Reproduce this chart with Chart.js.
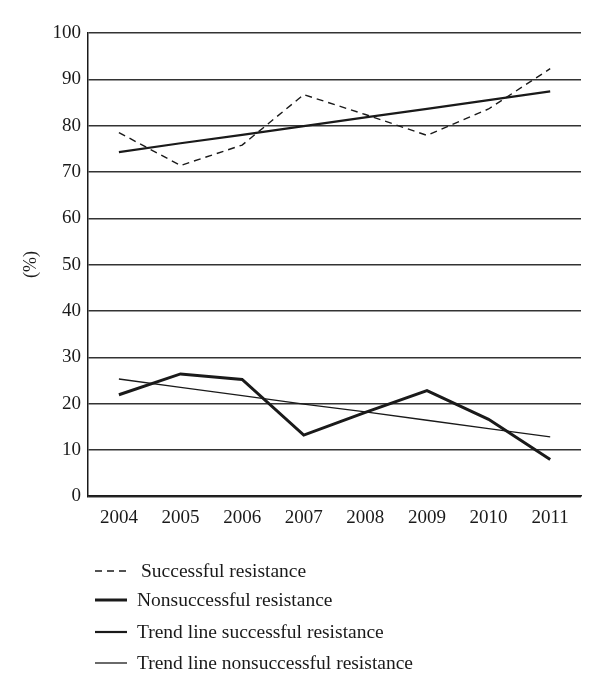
<!DOCTYPE html>
<html>
<head>
<meta charset="utf-8">
<script src="https://cdn.jsdelivr.net/npm/chart.js@4"></script>
<style>
  body { margin: 0; background: #fff; font-family: "Liberation Serif", serif; }
  #wrap { position: relative; width: 600px; height: 543px; }
  #legend { position: absolute; left: 0; top: 0; width: 600px; height: 678px; pointer-events: none; }
  .row { position: absolute; left: 95px; height: 20px; display: flex; align-items: center; font-size: 19.5px; color: #1a1a1a; }
  .row .sw { width: 32px; }
</style>
</head>
<body>
<div id="wrap"><canvas id="chart" width="600" height="543"></canvas></div>
<div id="legend"></div>
<script>
const years = ["2004", "2005", "2006", "2007", "2008", "2009", "2010", "2011"];
const successful = [78.5, 71.4, 75.8, 86.7, 82.4, 77.9, 83.6, 92.3];
const nonsuccessful = [21.9, 26.4, 25.2, 13.2, 18.1, 22.8, 16.6, 7.9];
const trendSuccessful = [74.3, 76.2, 78.0, 79.9, 81.8, 83.6, 85.5, 87.4];
const trendNonsuccessful = [25.3, 23.5, 21.7, 19.9, 18.2, 16.4, 14.6, 12.8];
const yTicks = [0, 10, 20, 30, 40, 50, 60, 70, 80, 90, 100];

const ink = "#1a1a1a";
const serif = "'Liberation Serif', 'DejaVu Serif', serif";

const series = [
    { label: "Successful resistance", data: successful, width: 1.4, dash: [7, 5], legendTop: 561, gap: 14 },
    { label: "Nonsuccessful resistance", data: nonsuccessful, width: 3, dash: [], legendTop: 590, gap: 10 },
    { label: "Trend line successful resistance", data: trendSuccessful, width: 2.2, dash: [], legendTop: 622, gap: 10 },
    { label: "Trend line nonsuccessful resistance", data: trendNonsuccessful, width: 1.3, dash: [], legendTop: 653, gap: 10 }
];

new Chart(document.getElementById("chart"), {
    type: "line",
    data: {
        labels: years,
        datasets: series.map(s => ({
            label: s.label,
            data: s.data,
            borderColor: ink,
            borderWidth: s.width,
            borderDash: s.dash,
            pointRadius: 0,
            tension: 0,
            fill: false
        }))
    },
    options: {
        responsive: false,
        animation: false,
        layout: { padding: { left: 7, right: 19, top: 33, bottom: 12 } },
        plugins: { legend: { display: false }, tooltip: { enabled: false } },
        scales: {
            x: {
                offset: true,
                grid: { display: false },
                border: { display: true, color: ink, width: 1.5 },
                ticks: { color: ink, font: { family: serif, size: 19 }, padding: 2, autoSkip: false, maxRotation: 0 }
            },
            y: {
                min: 0,
                max: 100,
                afterBuildTicks: axis => { axis.ticks = yTicks.map(v => ({ value: v })); },
                grid: { color: "#333", lineWidth: 1.4, drawTicks: false },
                border: { display: true, color: ink, width: 1.5 },
                ticks: { color: ink, font: { family: serif, size: 19 }, padding: 7 },
                title: { display: true, text: "(%)", color: ink, font: { family: serif, size: 18 }, padding: { top: 13, bottom: 4 } }
            }
        }
    }
});

const legend = document.getElementById("legend");
series.forEach(s => {
    const row = document.createElement("div");
    row.className = "row";
    row.style.top = s.legendTop + "px";
    const sw = document.createElement("canvas");
    sw.className = "sw";
    sw.width = 32;
    sw.height = 20;
    sw.style.marginRight = s.gap + "px";
    const c = sw.getContext("2d");
    c.strokeStyle = ink;
    c.lineWidth = s.width;
    c.setLineDash(s.dash);
    c.beginPath();
    c.moveTo(0, 10);
    c.lineTo(32, 10);
    c.stroke();
    row.appendChild(sw);
    const t = document.createElement("span");
    t.textContent = s.label;
    row.appendChild(t);
    legend.appendChild(row);
});
</script>
</body>
</html>
